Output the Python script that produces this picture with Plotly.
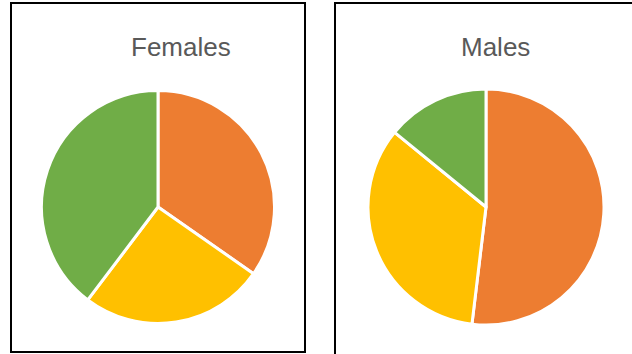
import plotly.graph_objects as go

# Share of each group, read clockwise from 12 o'clock
groups = ["Group A", "Group B", "Group C"]
females = [34.7, 25.6, 39.7]
males = [51.9, 34.0, 14.1]
panel_titles = ["Females", "Males"]
colors = ["#ED7D31", "#FFC000", "#70AD47"]

W, H = 632, 354


def px_x(v):
    return v / W


def px_y(v):
    return 1 - v / H


def pie(values, cx, cy, r, name):
    return go.Pie(
        labels=groups,
        values=values,
        name=name,
        sort=False,
        direction="clockwise",
        rotation=0,
        textinfo="none",
        marker=dict(colors=colors, line=dict(color="white", width=3)),
        domain=dict(x=[px_x(cx - r), px_x(cx + r)], y=[px_y(cy + r), px_y(cy - r)]),
        showlegend=False,
    )


fig = go.Figure()
fig.add_trace(pie(females, 158, 207, 116.5, panel_titles[0]))
fig.add_trace(pie(males, 486, 207, 118, panel_titles[1]))

# Panel frames
frame = dict(type="rect", xref="paper", yref="paper",
             line=dict(color="black", width=2), fillcolor="rgba(0,0,0,0)")
fig.add_shape(**frame, x0=px_x(11), x1=px_x(305), y0=px_y(352), y1=px_y(3))
fig.add_shape(**frame, x0=px_x(335), x1=px_x(660), y0=px_y(380), y1=px_y(3))

title_font = dict(family="Liberation Sans, Arial, sans-serif", size=26, color="#595959")
for text, x in zip(panel_titles, [181, 495]):
    fig.add_annotation(text=text, xref="paper", yref="paper",
                       x=px_x(x), y=px_y(47), xanchor="center", yanchor="middle",
                       showarrow=False, font=title_font)

fig.update_layout(
    width=W, height=H,
    margin=dict(l=0, r=0, t=0, b=0),
    paper_bgcolor="white", plot_bgcolor="white",
)

fig.write_html("out.html")
